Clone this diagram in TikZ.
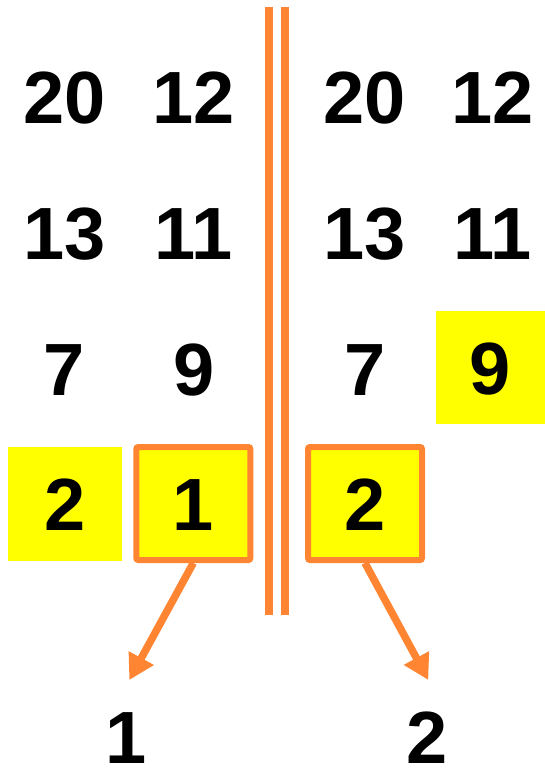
\documentclass[tikz,border=0pt]{standalone}
\usepackage{fontspec}
\setmainfont{Liberation Sans}
\usetikzlibrary{arrows.meta}
\definecolor{org}{RGB}{255,133,51}
\definecolor{yel}{RGB}{255,255,0}
\begin{document}
\begin{tikzpicture}[x=1pt,y=-1pt,
  num/.style={font=\fontsize{74}{80}\selectfont\bfseries, inner sep=0pt, text height=53pt, text depth=0pt},
  ybox/.style={num, fill=yel, minimum width=114pt, minimum height=114pt},
  obox/.style={num, fill=yel, draw=org, line width=6pt, rounded corners=2pt, minimum width=114pt, minimum height=113pt},
  conn/.style={draw=org, line width=7.5pt, -{Triangle[length=25pt,width=27pt]}},
  bar/.style={draw=org, line width=8pt}]
\useasboundingbox (0,0) rectangle (545,768);
% vertical separator
\coordinate (b1t) at (269,7);
\coordinate (b1b) at (269,615);
\coordinate (b2t) at (285,7);
\coordinate (b2b) at (285,615);
\draw[bar] (b1t) -- (b1b);
\draw[bar] (b2t) -- (b2b);
% left side
\node[num] (a1) at (64.5,97) {20};
\node[num] (a2) at (194,97) {12};
\node[num] (a3) at (64.5,233) {13};
\node[num] (a4) at (194,233) {11};
\node[num] (a5) at (64.5,369) {7};
\node[num] (a6) at (194,369) {9};
\node[ybox] (a7) at (65,504) {2};
\node[obox] (box1) at (193.3,503.5) {1};
% right side
\node[num] (c1) at (365,97) {20};
\node[num] (c2) at (493,97) {12};
\node[num] (c3) at (365,233) {13};
\node[num] (c4) at (493,233) {11};
\node[num] (c5) at (365,369) {7};
\node[num, fill=yel, minimum width=109pt, minimum height=113.5pt] (c6) at (490.5,367.5) {9};
\node[obox] (box2) at (365,503.5) {2};
% outputs
\coordinate (t1) at (129.3,680);
\coordinate (t2) at (428.3,680);
\draw[conn] (box1.south) -- (t1);
\draw[conn] (box2.south) -- (t2);
\node[num] (l1) at (126,737) {1};
\node[num] (l2) at (427,737) {2};
\end{tikzpicture}
\end{document}
